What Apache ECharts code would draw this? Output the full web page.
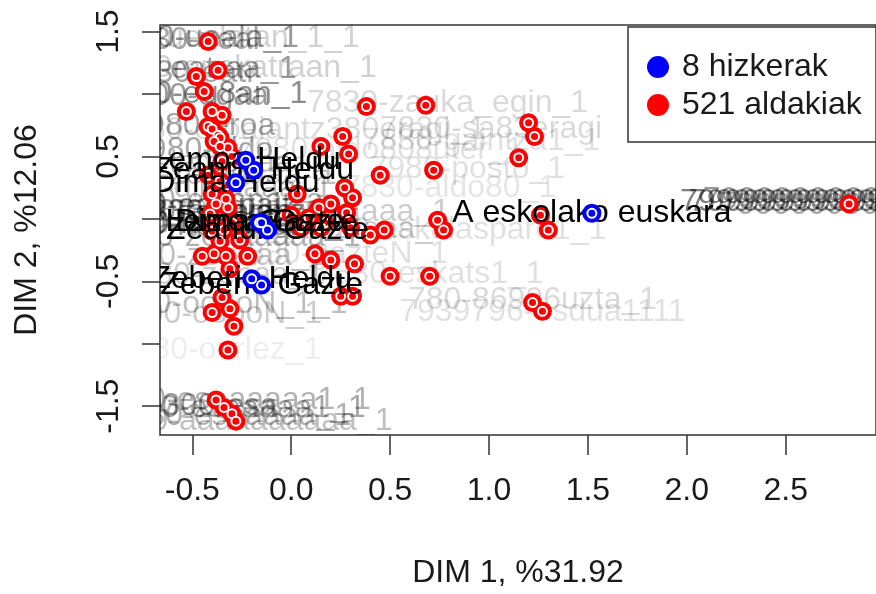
<!DOCTYPE html>
<html>
<head>
<meta charset="utf-8">
<script src="https://cdn.jsdelivr.net/npm/echarts@6/dist/echarts.min.js"></script>
<style>
html,body{margin:0;padding:0;background:#fff;}
#chart{width:876px;height:594px;}
</style>
</head>
<body>
<div id="chart"></div>
<script>
// ---- data ----
const xTicks = [-0.5, 0.0, 0.5, 1.0, 1.5, 2.0, 2.5];
const yTicks = [-1.5, -1.0, -0.5, 0.0, 0.5, 1.0, 1.5];
const yTickLabels = [-1.5, -0.5, 0.5, 1.5];

// 8 hizkerak (+ A eskolako euskara)
const hizX = [-0.23, -0.19, -0.28, -0.16, -0.15, -0.12, -0.20, -0.15, 1.52];
const hizY = [0.47, 0.39, 0.29, -0.03, -0.03, -0.09, -0.48, -0.53, 0.045];
const hizNames = ['Lemoa Heldu', 'Zeanuri Heldu', 'Dima Heldu', 'Dima Gazte', 'Lemoa Gazte',
  'Zeanuri Gazte', 'Zeberio Heldu', 'Zeberio Gazte', 'A eskolako euskara'];

// 521 aldakiak (visible points)
const aldX = [-0.42, -0.37, -0.48, -0.44, -0.53, -0.40, -0.35, -0.42, -0.40, -0.37, -0.36, -0.39,
  -0.32, -0.36, -0.35, -0.42, -0.33, -0.40, -0.32, -0.38, -0.41, -0.30, -0.36, -0.45, -0.39, -0.33,
  -0.22, -0.31, -0.35, -0.40, -0.31, -0.29, -0.32, -0.38, -0.34, -0.30, -0.28,
  0.38, 0.68, 1.20, 1.23, 1.15, 0.72, 0.45, 0.26, 0.15, 0.29, 0.03, 0.27, 0.31, 0.14, 0.20, 0.28,
  0.09, 0.00, 0.17, 0.05, 0.15, 0.30, 0.40, 0.47, 0.12, 0.20, 0.32, 0.50, 0.70, 0.25, 0.31,
  0.74, 0.77, 1.26, 1.30, 2.82, 1.22, 1.27,
  -0.34, -0.26, -0.40, -0.30, -0.36, -0.33];
const aldY = [1.42, 1.19, 1.14, 1.02, 0.86, 0.86, 0.83, 0.74, 0.72, 0.67, 0.65, 0.62,
  0.57, 0.58, 0.46, 0.35, 0.27, 0.20, 0.09, 0.12, 0.04, -0.03, -0.18, -0.30, -0.28, -0.30,
  -0.30, -0.40, -0.63, -0.75, -0.72, -0.86, -1.05, -1.45, -1.51, -1.56, -1.62,
  0.90, 0.91, 0.77, 0.66, 0.49, 0.39, 0.35, 0.66, 0.58, 0.52, 0.20, 0.25, 0.17, 0.09, 0.12, 0.05,
  0.01, 0.03, -0.03, -0.07, -0.07, -0.07, -0.13, -0.09, -0.28, -0.33, -0.36, -0.46, -0.46, -0.62, -0.62,
  -0.01, -0.09, 0.03, -0.09, 0.12, -0.67, -0.74,
  -0.09, -0.17, -0.10, 0.50, 0.30, 0.16];

// faint variable labels (background)
const bgX = [-0.44, -0.50, -0.52, -0.40, -0.50, -0.52, -0.44, -0.50, 0.04, -0.45, 0.45, -0.45,
  0.79, 1.01, 0.96, 0.89, 0.80, -0.40, -0.42, -0.40, -0.30, -0.30, -0.40, -0.32, -0.30, 0.10, 0.15,
  0.77, 0.24, 0.70, -0.38, -0.35, 1.22, 1.27, -0.34, -0.38, -0.32,
  -0.34, -0.32, -0.30, -0.28, -0.45, 2.82, 2.82, 2.80, 2.84, -0.48, -0.48];
const bgY = [1.45, 1.45, 1.43, 1.21, 1.20, 1.17, 1.00, 0.98, 0.71, 0.74, 0.55, 0.55,
  0.93, 0.72, 0.62, 0.40, 0.25, 0.35, 0.45, 0.25, 0.14, 0.05, 0.05, -0.06, -0.15, 0.05, -0.08,
  -0.09, -0.28, -0.44, -0.30, -0.45, -0.65, -0.75, -0.68, -0.76, -1.05,
  -1.45, -1.52, -1.58, -1.62, -1.50, 0.13, 0.13, 0.15, 0.11, 0.10, -0.04];
const bgAlpha = [0.18, 0.4, 0.35, 0.18, 0.4, 0.35, 0.45, 0.4, 0.15, 0.35, 0.12, 0.35,
  0.15, 0.15, 0.12, 0.12, 0.1, 0.25, 0.25, 0.25, 0.3, 0.4, 0.5, 0.4, 0.3, 0.2, 0.2,
  0.12, 0.12, 0.12, 0.25, 0.2, 0.15, 0.12, 0.25, 0.2, 0.07,
  0.3, 0.35, 0.3, 0.25, 0.4, 0.5, 0.5, 0.4, 0.35, 0.5, 0.5];
const bgText = ['793000-uealatan_1_1', '79300-ueala_1', '7930-ueal', '7830000-euskatraan_1', '7830-eatraa_1',
  '7830-eatr', '7800-eg8an_1', '7800-egaa', '7980-eroaiantz380eragi_1', '7980-eroa', '7980-aldo808uter_1',
  '7980-aldo', '7830-zauka_egin_1', '7830-sa83eragi', '7830-gaintza1_1', '7980-posto_1', '7830-aldo80_1',
  '7830-zemoaaa_1', '7830-lemoaaa_1', '7830-dimaaaa_1', '7830-eaiapaiza_1', '7830-eaiapaiza_1',
  '7830-eaiap', '7830-heinaaaza_1', '7830-zeaaaaaa_1', '7830-abaaaaaaa_1', '7830-gaaaaaaa_1',
  '78330-eskolaspare1_1', '7830-gazteN_1', '7830-eskats1_1', '7830-zebaaa_1', '7830-zebaa_1',
  '780-86996uzta_1', '7939796-esdua1111', '7800-ooooN_1_1', '7800-ooooN_1', '780-ourlez_1',
  '79300-esaaaaaa1_1', '79300-esaaaaa1_1', '7930-esaaaaa_1', '78300-aaaaaaaaaa_1', '79300-esa',
  '79999999999990000_1', '7999999999999000_1', '79999999999990_1', '7999999999999_1',
  '7830-eaiapaiz', '7830-heinaaa'];

const FONT = '"Liberation Sans", Arial, sans-serif';
const FS = 32;
const chart = echarts.init(document.getElementById('chart'));

const aldData = aldX.map((x, i) => [x, aldY[i]]);
const hizData = hizX.map((x, i) => [x, hizY[i]]);
const bgData = bgX.map((x, i) => [x, bgY[i], bgAlpha[i]]);

function textItem(txt, fill) {
  return {text: txt, fill: fill, font: FS + 'px ' + FONT,
    textAlign: 'center', textVerticalAlign: 'middle', align: 'center', verticalAlign: 'middle'};
}

chart.setOption({
  animation: false,
  backgroundColor: '#fff',
  grid: {left: 160, right: -8, top: 25, bottom: 153, show: true,
    borderColor: '#333', borderWidth: 1.5, backgroundColor: 'transparent'},
  xAxis: {
    type: 'value', min: -0.6635, max: 2.9565,
    splitLine: {show: false},
    axisLine: {show: false, onZero: false},
    axisTick: {show: true, length: 20, lineStyle: {color: '#333', width: 1.5}, customValues: xTicks},
    axisLabel: {customValues: xTicks, fontSize: FS, fontFamily: FONT, color: '#1a1a1a', margin: 40,
      formatter: v => v.toFixed(1)},
    name: 'DIM 1, %31.92', nameLocation: 'middle', nameGap: 122,
    nameTextStyle: {fontSize: FS, fontFamily: FONT, color: '#1a1a1a'}
  },
  yAxis: {
    type: 'value', min: -1.731, max: 1.553,
    splitLine: {show: false},
    axisLine: {show: false, onZero: false},
    axisTick: {show: true, length: 18, lineStyle: {color: '#333', width: 1.5}, customValues: yTicks},
    axisLabel: {customValues: yTickLabels, rotate: 90, fontSize: FS, fontFamily: FONT, color: '#1a1a1a', margin: 35,
      formatter: v => String(v)},
    name: 'DIM 2, %12.06', nameLocation: 'middle', nameGap: 117,
    nameTextStyle: {fontSize: FS, fontFamily: FONT, color: '#1a1a1a'}
  },
  legend: {
    orient: 'vertical', left: 642, top: 46, itemWidth: 38, itemHeight: 22, itemGap: 6,
    icon: 'circle',
    data: ['8 hizkerak', '521 aldakiak'],
    textStyle: {fontSize: FS, fontFamily: FONT, color: '#1a1a1a'},
    selectedMode: false
  },
  graphic: [{
    type: 'rect', z: 100,
    shape: {x: 628, y: 27, width: 270, height: 115},
    style: {fill: 'none', stroke: '#333', lineWidth: 1.5}
  }],
  series: [
    {
      type: 'custom', name: 'bg', z: 1, clip: true, silent: true,
      data: bgData,
      encode: {x: 0, y: 1},
      renderItem: function (params, api) {
        const p = api.coord([api.value(0), api.value(1)]);
        return {type: 'text', x: p[0], y: p[1],
          style: textItem(bgText[params.dataIndex], 'rgba(0,0,0,' + api.value(2) + ')')};
      }
    },
    {type: 'scatter', name: '521 aldakiak', z: 2, data: aldData, symbol: 'circle', symbolSize: 19,
      itemStyle: {color: '#ff0000', opacity: 1}},
    {type: 'scatter', name: 'ald_ring', z: 3, data: aldData, symbol: 'circle', symbolSize: 9,
      itemStyle: {color: '#ff0000', borderColor: '#fff', borderWidth: 2, opacity: 1}},
    {
      type: 'custom', name: 'lab', z: 4, clip: true, silent: true,
      data: hizData,
      encode: {x: 0, y: 1},
      renderItem: function (params, api) {
        const p = api.coord([api.value(0), api.value(1)]);
        return {type: 'text', x: p[0], y: p[1], style: textItem(hizNames[params.dataIndex], '#000')};
      }
    },
    {type: 'scatter', name: '8 hizkerak', z: 5, data: hizData, symbol: 'circle', symbolSize: 19,
      itemStyle: {color: '#0000ff', opacity: 1}},
    {type: 'scatter', name: 'hiz_ring', z: 6, data: hizData, symbol: 'circle', symbolSize: 9,
      itemStyle: {color: '#0000ff', borderColor: '#fff', borderWidth: 2, opacity: 1}}
  ]
});
</script>
</body>
</html>
